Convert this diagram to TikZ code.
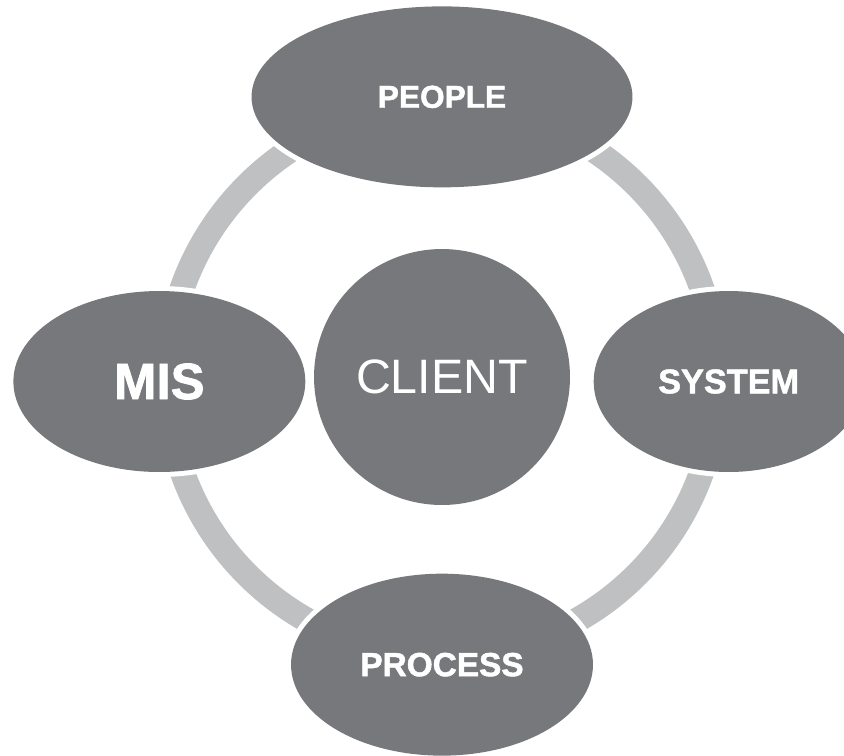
\documentclass[tikz,border=0pt]{standalone}
\usepackage{fontspec}
\setmainfont{Liberation Sans}[BoldFeatures={FakeBold=1.5}]
\usetikzlibrary{shapes.geometric, positioning}

\definecolor{blobgrey}{HTML}{77787B}
\definecolor{ringgrey}{HTML}{BFC0C2}

\begin{document}
\begin{tikzpicture}[
    x=0.02cm, y=-0.02cm,
    blob/.style={ellipse, fill=blobgrey, text=white, inner sep=0pt, minimum height=3.62cm, preaction={draw=white, line width=0.2cm}},
    hubnode/.style={circle, fill=blobgrey, text=white, inner sep=0pt, minimum size=5.12cm, preaction={draw=white, line width=0.2cm}},
    ring/.style={draw=ringgrey, line width=0.5cm}
    ]

    \useasboundingbox (0,0) rectangle (844,755);
    \clip (0,0) rectangle (844,755);

    % Define the ring behind the nodes
    \coordinate (hub) at (442,380);
    \draw[ring] (hub) circle (5.51cm);

    % Define the centre and the four around it
    \node[hubnode, font=\fontsize{27.5}{30}\selectfont] (client) at (442,377) {CLIENT};
    \node[blob, minimum width=7.62cm, above=1.22cm of client, font=\fontsize{18}{21}\selectfont\bfseries] (people) {PEOPLE};
    \node[blob, minimum width=5.84cm, left=0.16cm of client, yshift=-0.09cm, font=\fontsize{29}{33}\selectfont\bfseries] (mis) {MIS};
    \node[blob, minimum width=5.4cm, right=0.46cm of client, yshift=-0.09cm, font=\fontsize{19.5}{22}\selectfont\bfseries] (system) {SYSTEM};
    \node[blob, minimum width=6.04cm, minimum height=3.64cm, below=1.36cm of client, font=\fontsize{19}{22}\selectfont\bfseries] (process) {PROCESS};

\end{tikzpicture}
\end{document}
